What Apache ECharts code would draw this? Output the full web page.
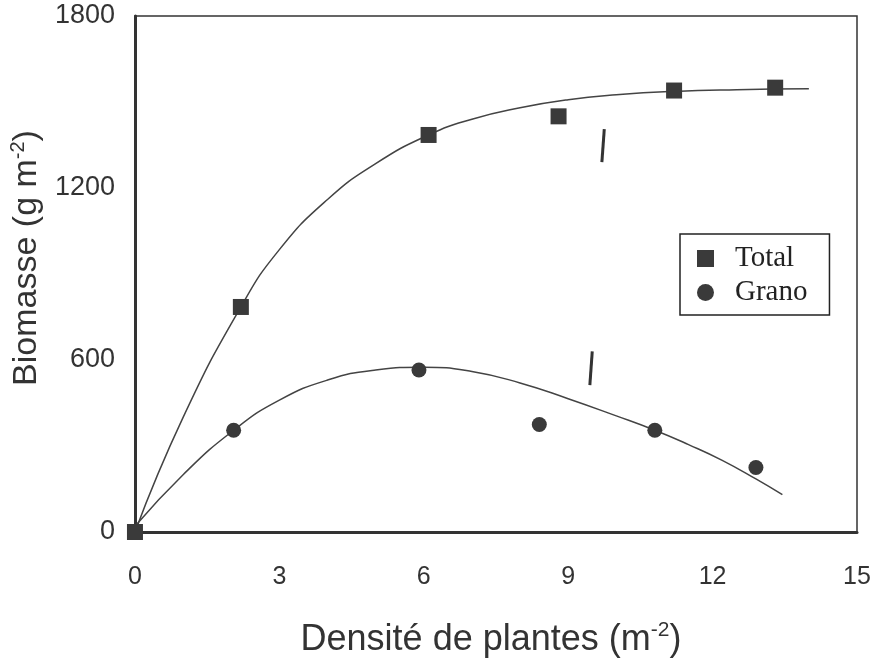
<!DOCTYPE html>
<html><head><meta charset="utf-8">
<script src="https://cdn.jsdelivr.net/npm/echarts@6/dist/echarts.min.js"></script>
<style>html,body{margin:0;padding:0;background:#fff}#c{width:877px;height:665px}</style>
</head><body><div id="c"></div>
<script>
// Axis ticks
const xTicks = [0, 3, 6, 9, 12, 15];
const yTicks = [0, 600, 1200, 1800];

// Observed points
const totalX = [0, 2.2, 6.1, 8.8, 11.2, 13.3];
const totalY = [0, 785, 1385, 1450, 1540, 1550];
const granoX = [0, 2.05, 5.9, 8.4, 10.8, 12.9];
const granoY = [0, 355, 565, 375, 355, 225];

// Fitted curves
const fitTotalX = [0, 1, 2.2, 3, 4, 5, 6.1, 7, 8, 9, 10, 11.2, 12.5, 14];
const fitTotalY = [0, 400, 785, 985, 1160, 1285, 1385, 1440, 1480, 1508, 1525, 1537, 1543, 1546];
const fitGranoX = [0, 1, 2.05, 3, 4, 5, 6, 7, 8, 9, 10, 10.8, 11.5, 12.2, 12.9, 13.45];
const fitGranoY = [20, 200, 355, 460, 530, 565, 575, 560, 520, 465, 405, 355, 305, 250, 185, 130];

// Short vertical bars drawn in the plot
const barUpperX = [9.75, 9.7];
const barUpperY = [1405, 1290];
const barLowerX = [9.5, 9.45];
const barLowerY = [630, 512];

const pairs = (xs, ys) => xs.map((x, i) => [x, ys[i]]);
const ink = '#333';
const font = 'Liberation Sans, Arial, Helvetica, sans-serif';

const chart = echarts.init(document.getElementById('c'));
chart.setOption({
  animation: false,
  backgroundColor: '#fff',
  grid: { left: 134, right: 20, top: 16, bottom: 133, show: true, borderColor: ink, borderWidth: 1.5, backgroundColor: 'transparent' },
  xAxis: {
    type: 'value', min: xTicks[0], max: xTicks[xTicks.length - 1], interval: xTicks[1] - xTicks[0],
    splitLine: { show: false },
    axisLine: { show: true, onZero: false, lineStyle: { color: ink, width: 3 } },
    axisTick: { show: false },
    axisLabel: { color: ink, fontSize: 25, fontFamily: font, margin: 33, formatter: v => String(v) },
    name: 'Densité de plantes (m{sup|-2})',
    nameLocation: 'middle', nameGap: 88,
    nameTextStyle: { color: ink, fontSize: 36, fontFamily: font, padding: [0, 10, 0, 0],
      rich: { sup: { fontSize: 21, fontFamily: font, color: ink, padding: [0, 0, 19, 0] } } }
  },
  yAxis: {
    type: 'value', min: yTicks[0], max: yTicks[yTicks.length - 1], interval: yTicks[1] - yTicks[0],
    splitLine: { show: false },
    axisLine: { show: true, onZero: false, lineStyle: { color: ink, width: 3 } },
    axisTick: { show: false },
    axisLabel: { color: ink, fontSize: 27, fontFamily: font, margin: 20, formatter: v => String(v) },
    name: 'Biomasse (g m{sup|-2})',
    nameLocation: 'middle', nameGap: 76,
    nameTextStyle: { color: ink, fontSize: 34, fontFamily: font, padding: [0, 0, 0, 32],
      rich: { sup: { fontSize: 20, fontFamily: font, color: ink, padding: [0, 0, 18, 0] } } }
  },
  legend: {
    orient: 'vertical', left: 680, top: 234,
    data: ['Total', 'Grano'],
    backgroundColor: '#fff', borderColor: '#222', borderWidth: 1.5,
    padding: [10, 22, 8, 17], itemGap: 5, itemWidth: 17, itemHeight: 17,
    textStyle: { fontFamily: 'Liberation Serif, Times New Roman, serif', fontSize: 29, color: '#222', padding: [0, 0, 0, 16] }
  },
  series: [
    { name: 'fitTotal', type: 'line', data: pairs(fitTotalX, fitTotalY), smooth: true, showSymbol: false, symbol: 'none',
      lineStyle: { color: '#444', width: 1.5 }, silent: true, z: 2 },
    { name: 'fitGrano', type: 'line', data: pairs(fitGranoX, fitGranoY), smooth: true, showSymbol: false, symbol: 'none',
      lineStyle: { color: '#444', width: 1.5 }, silent: true, z: 2 },
    { name: 'barUpper', type: 'line', data: pairs(barUpperX, barUpperY), showSymbol: false, symbol: 'none',
      lineStyle: { color: '#333', width: 3 }, silent: true, z: 2 },
    { name: 'barLower', type: 'line', data: pairs(barLowerX, barLowerY), showSymbol: false, symbol: 'none',
      lineStyle: { color: '#333', width: 3 }, silent: true, z: 2 },
    { name: 'Grano', type: 'scatter', data: pairs(granoX, granoY), symbol: 'circle', symbolSize: 15,
      itemStyle: { color: '#3a3a3a', opacity: 1 }, z: 3 },
    { name: 'Total', type: 'scatter', data: pairs(totalX, totalY), symbol: 'rect', symbolSize: 16,
      itemStyle: { color: '#3a3a3a', opacity: 1 }, z: 4 }
  ]
});
</script></body></html>
